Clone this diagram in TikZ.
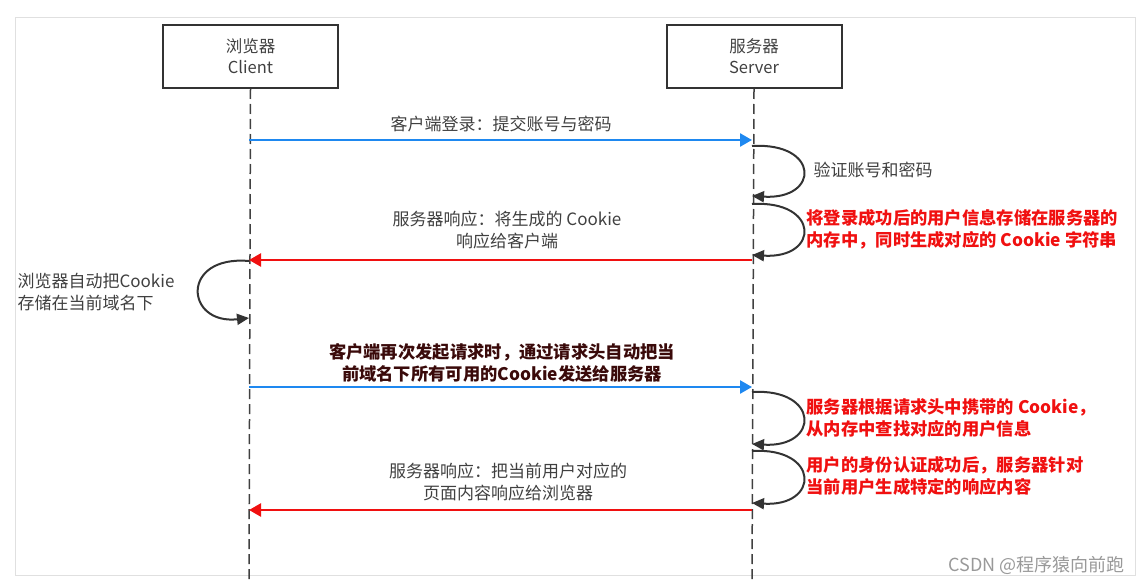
\documentclass[tikz,border=0pt]{standalone}
\usepackage{fontspec}
\setmainfont{Noto Sans CJK SC}
\usetikzlibrary{arrows.meta}
\definecolor{txt}{HTML}{404040}
\definecolor{bl}{HTML}{1E88F0}
\definecolor{rd}{HTML}{F01010}
\definecolor{dk}{HTML}{3A0A0A}
\begin{document}
\begin{tikzpicture}[x=1pt,y=-1pt,
  box/.style={draw=black!80,line width=2pt,minimum width=175pt,minimum height=63pt,align=center,font=\fontsize{16.5}{21}\selectfont,text=txt},
  life/.style={draw=black!75,line width=1.5pt,dash pattern=on 10pt off 5pt},
  msg/.style={line width=2.5pt,-{Triangle[length=12pt,width=13pt]}},
  loop/.style={draw=black!80,line width=2pt,-{Triangle[length=12pt,width=11pt]}},
  lab/.style={font=\fontsize{17}{22}\selectfont,text=txt,align=center},
  rlab/.style={font=\fontsize{17.3}{22}\selectfont\bfseries,text=rd,align=left,anchor=west}]
\useasboundingbox (0,0) rectangle (1137,583);
\draw[black!12,line width=1pt] (15,18) rectangle (1135,575);
\node[box] (c) at (250.5,56.5) {浏览器\\Client};
\node[box] (s) at (754,56.5) {服务器\\Server};
\coordinate (cb) at (249,585); \coordinate (sb) at (752,585);
\draw[life] (c.south) -- (cb);
\draw[life] (s.south) -- (sb);
\coordinate (m1a) at (249,140); \coordinate (m1b) at (752,140);
\draw[msg,bl] (m1a) -- (m1b);
\node[lab] (l1) at (501,124) {客户端登录：提交账号与密码};
\coordinate (p1a) at (752,146); \coordinate (p1b) at (752,196);
\draw[loop] (p1a) .. controls (820,142) and (820,200) .. (p1b);
\node[lab,anchor=west] (l2) at (810,170) {验证账号和密码};
\coordinate (p2a) at (752,204); \coordinate (p2b) at (752,255);
\draw[loop] (p2a) .. controls (820,200) and (820,259) .. (p2b);
\node[rlab] (l3) at (803,229) {将登录成功后的用户信息存储在服务器的\\内存中，同时生成对应的 Cookie 字符串};
\coordinate (m2a) at (752,260); \coordinate (m2b) at (249,260);
\draw[msg,rd] (m2a) -- (m2b);
\node[lab] (l4) at (507,230) {服务器响应：将生成的 Cookie\\响应给客户端};
\coordinate (p3a) at (249,261); \coordinate (p3b) at (249,318);
\draw[loop] (p3a) .. controls (180,255) and (185,325) .. (p3b);
\node[lab,align=left,anchor=west] (l5) at (14,292) {浏览器自动把Cookie\\存储在当前域名下};
\coordinate (m3a) at (249,387); \coordinate (m3b) at (752,387);
\draw[msg,bl] (m3a) -- (m3b);
\node[lab,font=\fontsize{17.3}{22}\selectfont\bfseries,text=dk] (l6) at (502,363) {客户端再次发起请求时，通过请求头自动把当\\前域名下所有可用的Cookie发送给服务器};
\coordinate (p4a) at (752,392); \coordinate (p4b) at (752,444);
\draw[loop] (p4a) .. controls (820,388) and (820,448) .. (p4b);
\node[rlab] (l7) at (803,418) {服务器根据请求头中携带的 Cookie，\\从内存中查找对应的用户信息};
\coordinate (p5a) at (752,451); \coordinate (p5b) at (752,503);
\draw[loop] (p5a) .. controls (820,447) and (820,507) .. (p5b);
\node[rlab] (l8) at (803,476) {用户的身份认证成功后，服务器针对\\当前用户生成特定的响应内容};
\coordinate (m4a) at (752,510); \coordinate (m4b) at (249,510);
\draw[msg,rd] (m4a) -- (m4b);
\node[lab] (l9) at (508,482) {服务器响应：把当前用户对应的\\页面内容响应给浏览器};
\node[font=\fontsize{18}{20}\selectfont,text=black!40,anchor=east] (wm) at (1128,565) {CSDN @程序猿向前跑};
\end{tikzpicture}
\end{document}
